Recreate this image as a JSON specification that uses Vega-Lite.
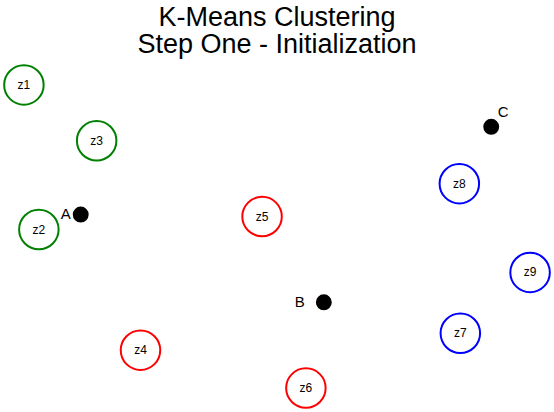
{
  "$schema": "https://vega.github.io/schema/vega-lite/v6.json",
  "autosize": {"type": "fit", "contains": "padding"},
  "width": 554,
  "height": 412,
  "padding": {"top": 4, "left": 0, "right": 0, "bottom": 0},
  "background": "white",
  "title": {
    "text": ["K-Means Clustering", "Step One - Initialization"],
    "font": "Liberation Sans",
    "fontSize": 27,
    "fontWeight": "normal",
    "lineHeight": 27,
    "anchor": "middle",
    "offset": 2,
    "color": "black"
  },
  "datasets": {
    "points": [
      {"name": "z1", "x": 23, "y": 84, "cluster": "A"},
      {"name": "z2", "x": 38, "y": 229, "cluster": "A"},
      {"name": "z3", "x": 96, "y": 140, "cluster": "A"},
      {"name": "z4", "x": 140, "y": 350, "cluster": "B"},
      {"name": "z5", "x": 262, "y": 216, "cluster": "B"},
      {"name": "z6", "x": 306, "y": 388, "cluster": "B"},
      {"name": "z7", "x": 461, "y": 333, "cluster": "C"},
      {"name": "z8", "x": 460, "y": 183, "cluster": "C"},
      {"name": "z9", "x": 531, "y": 272, "cluster": "C"}
    ],
    "centroids": [
      {"name": "A", "x": 80, "y": 214},
      {"name": "B", "x": 324, "y": 302},
      {"name": "C", "x": 492, "y": 126}
    ]
  },
  "encoding": {
    "x": {"field": "x", "type": "quantitative", "scale": {"domain": [0, 554], "nice": false, "zero": false}, "axis": null},
    "y": {"field": "y", "type": "quantitative", "scale": {"domain": [412, 60], "nice": false, "zero": false}, "axis": null}
  },
  "layer": [
    {
      "data": {"name": "points"},
      "mark": {"type": "point", "shape": "circle", "size": 1560, "strokeWidth": 2, "filled": false, "opacity": 1},
      "encoding": {
        "color": {"field": "cluster", "type": "nominal", "scale": {"domain": ["A", "B", "C"], "range": ["green", "red", "blue"]}, "legend": null}
      }
    },
    {
      "data": {"name": "points"},
      "mark": {"type": "text", "font": "Liberation Sans", "fontSize": 12, "color": "black"},
      "encoding": {"text": {"field": "name"}}
    },
    {
      "data": {"name": "centroids"},
      "mark": {"type": "point", "shape": "circle", "size": 254, "filled": true, "color": "black", "opacity": 1}
    },
    {
      "data": {"name": "centroids"},
      "transform": [{"filter": "datum.name === 'A'"}],
      "mark": {"type": "text", "font": "Liberation Sans", "fontSize": 15, "color": "black", "dx": -15, "dy": -1},
      "encoding": {"text": {"field": "name"}}
    },
    {
      "data": {"name": "centroids"},
      "transform": [{"filter": "datum.name === 'B'"}],
      "mark": {"type": "text", "font": "Liberation Sans", "fontSize": 15, "color": "black", "dx": -24, "dy": 0},
      "encoding": {"text": {"field": "name"}}
    },
    {
      "data": {"name": "centroids"},
      "transform": [{"filter": "datum.name === 'C'"}],
      "mark": {"type": "text", "font": "Liberation Sans", "fontSize": 15, "color": "black", "dx": 12, "dy": -15},
      "encoding": {"text": {"field": "name"}}
    }
  ],
  "config": {"view": {"stroke": null}}
}
